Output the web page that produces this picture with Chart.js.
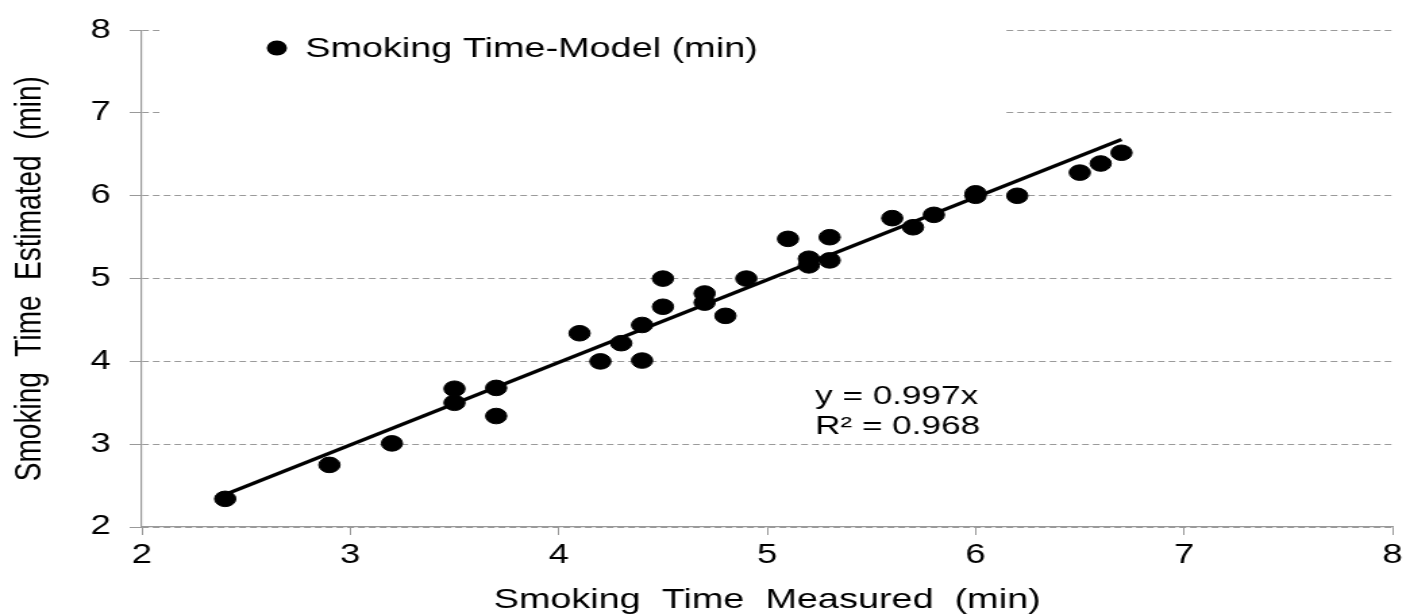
<!DOCTYPE html>
<html>
<head>
<meta charset="utf-8">
<script src="https://cdn.jsdelivr.net/npm/chart.js@4"></script>
<style>
  html, body { margin: 0; padding: 0; background: #fff; overflow: hidden; }
  /* the reference looks horizontally stretched, so draw narrow and stretch */
  #wrap { width: 1044px; height: 615px; transform: scaleX(1.3506); transform-origin: 0 0; }
</style>
</head>
<body>
<div id="wrap"><canvas id="chart" width="1044" height="615"></canvas></div>
<script>
// measured vs. model-estimated smoking time (min)
const measured = [2.4, 2.9, 3.2, 3.5, 3.5, 3.7, 3.7, 4.1, 4.2, 4.3, 4.4, 4.4, 4.5, 4.5, 4.7, 4.7,
  4.8, 4.9, 5.1, 5.2, 5.2, 5.3, 5.3, 5.6, 5.7, 5.8, 6.0, 6.0, 6.2, 6.5, 6.6, 6.7];
const estimated = [2.34, 2.75, 3.01, 3.67, 3.50, 3.68, 3.34, 4.34, 4.00, 4.22, 4.44, 4.01, 5.00, 4.66, 4.82, 4.71,
  4.55, 5.00, 5.48, 5.24, 5.16, 5.50, 5.22, 5.73, 5.62, 5.77, 6.00, 6.03, 6.00, 6.28, 6.39, 6.52];
const slope = 0.997;
const rSquared = 0.968;
const axisTicks = [2, 3, 4, 5, 6, 7, 8];

const legendLabel = 'Smoking Time-Model (min)';
const xTitle = 'Smoking  Time  Measured  (min)';
const yTitle = 'Smoking  Time  Estimated  (min)';
const eqLines = ['y = ' + slope + 'x', 'R² = ' + rSquared];
const eqAt = { x: 5.23, y: 3.57 };

const FONT = '"Liberation Sans", Arial, sans-serif';

const points = measured.map((m, i) => ({ x: m, y: estimated[i] }));
const xMin = Math.min(...measured), xMax = Math.max(...measured);
const trend = [{ x: xMin, y: slope * xMin }, { x: xMax, y: slope * xMax }];

// white legend box that hides the top gridlines, like the original
const legendBox = {
  id: 'legendBox',
  beforeDatasetsDraw(chart) {
    const ctx = chart.ctx;
    ctx.save();
    ctx.fillStyle = '#fff';
    ctx.fillRect(118, 12, 626, 104);
    ctx.fillStyle = '#000';
    ctx.beginPath();
    ctx.arc(205, 48, 7.5, 0, Math.PI * 2);
    ctx.fill();
    ctx.fillStyle = '#000';
    ctx.font = '28px ' + FONT;
    ctx.textBaseline = 'middle';
    ctx.fillText(legendLabel, 226, 49);
    ctx.restore();
  }
};

const equation = {
  id: 'equation',
  afterDatasetsDraw(chart) {
    const ctx = chart.ctx;
    const x = chart.scales.x.getPixelForValue(eqAt.x);
    const y = chart.scales.y.getPixelForValue(eqAt.y);
    ctx.save();
    ctx.fillStyle = '#000';
    ctx.font = '26px ' + FONT;
    ctx.textBaseline = 'middle';
    eqLines.forEach((t, i) => ctx.fillText(t, x, y + i * 30));
    ctx.restore();
  }
};

new Chart(document.getElementById('chart'), {
  type: 'scatter',
  data: {
    datasets: [
      {
        label: legendLabel,
        data: points,
        backgroundColor: '#000',
        borderColor: '#000',
        pointRadius: 7.8,
        pointHoverRadius: 7.8
      },
      {
        label: 'trend',
        data: trend,
        showLine: true,
        borderColor: '#000',
        borderWidth: 3.2,
        pointRadius: 0,
        pointHoverRadius: 0
      }
    ]
  },
  options: {
    responsive: false,
    animation: false,
    devicePixelRatio: 1,
    layout: { padding: { left: 0, right: 13, top: 23, bottom: 0 } },
    plugins: { legend: { display: false }, tooltip: { enabled: false } },
    scales: {
      x: {
        type: 'linear',
        min: 2, max: 8,
        afterBuildTicks: s => { s.ticks = axisTicks.map(v => ({ value: v })); },
        afterFit: s => { s.height = 88; },
        grid: { drawOnChartArea: false, drawTicks: true, tickLength: 8, tickColor: '#999' },
        border: { color: '#999', width: 1.2 },
        ticks: { color: '#000', padding: 4, font: { family: FONT, size: 27 } },
        title: { display: true, text: xTitle, color: '#000', padding: { top: 0, bottom: 0 },
          font: { family: FONT, size: 28, lineHeight: 1.05 } }
      },
      y: {
        type: 'linear',
        min: 2, max: 8,
        afterBuildTicks: s => { s.ticks = axisTicks.map(v => ({ value: v })); },
        afterFit: s => { s.width = 105; },
        grid: { color: '#9a9a9a', lineWidth: 1, tickLength: 9, tickColor: '#999' },
        border: { color: '#999', width: 1.2, dash: [5, 3] },
        ticks: { color: '#000', padding: 14, font: { family: FONT, size: 27 } },
        title: { display: true, text: yTitle, color: '#000', padding: { top: 5, bottom: 0 },
          font: { family: FONT, size: 28 } }
      }
    }
  },
  plugins: [legendBox, equation]
});
</script>
</body>
</html>
